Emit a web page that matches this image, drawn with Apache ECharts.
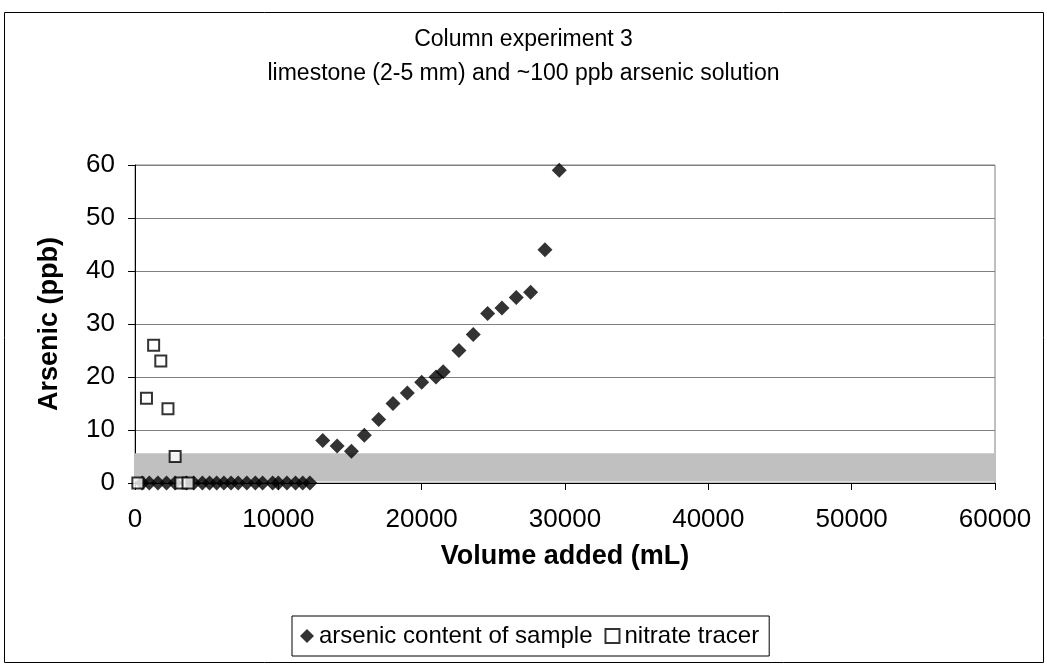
<!DOCTYPE html>
<html><head><meta charset="utf-8">
<script src="https://cdn.jsdelivr.net/npm/echarts@6/dist/echarts.min.js"></script>
<style>html,body{margin:0;padding:0;background:#fff}#c{width:1047px;height:667px}</style>
</head><body><div id="c"></div>
<script>
var titleLines = ['Column experiment 3', 'limestone (2-5 mm) and ~100 ppb arsenic solution'];
var seriesNames = ['arsenic content of sample', 'nitrate tracer'];
var arsenicVolume = [500,1000,1600,2200,2800,3600,4100,4700,5200,5700,6200,6700,7200,7800,8400,8900,9600,10000,10600,11200,11700,12200,
  13100,14100,15100,16000,17000,18000,19000,20000,21000,21500,22600,23600,24600,25600,26600,27600,28600,29600];
var arsenicValue = [0,0,0,0,0,0,0,0,0,0,0,0,0,0,0,0,0,0,0,0,0,0,
  8,7,6,9,12,15,17,19,20,21,25,28,32,33,35,36,44,59];
var nitrateVolume = [200,800,1300,1800,2300,2800,3200,3700];
var nitrateValue = [0,16,26,23,14,5,0,0];
var bandRange = [0.3, 5.6];
var xTicks = {min:0, max:60000, interval:10000};
var yTicks = {min:0, max:60, interval:10};

function pairs(xs, ys){ return xs.map(function(x,i){ return [x, ys[i]]; }); }

var chart = echarts.init(document.getElementById('c'));
var font = 'Liberation Sans, Arial, sans-serif';
chart.setOption({
  animation:false,
  backgroundColor:'#fff',
  textStyle:{fontFamily:font},
  graphic:[{type:'rect', shape:{x:4.5,y:12.5,width:1039,height:650}, style:{fill:null, stroke:'#000', lineWidth:1}, z:-1}],
  title:{text:titleLines.join('\n'), left:'center', top:18,
    textStyle:{fontFamily:font, fontSize:23, fontWeight:'normal', color:'#000', lineHeight:34}},
  legend:{data:[{name:seriesNames[0]},{name:seriesNames[1]}], left:292, top:616,
    borderColor:'#000', borderWidth:1, padding:[8,10,8,8], itemGap:12, itemWidth:14, itemHeight:14,
    textStyle:{fontFamily:font, fontSize:24, color:'#000'}},
  grid:{left:135, right:52, top:165, bottom:184, show:true, borderColor:'#808080', borderWidth:1, backgroundColor:'#fff'},
  xAxis:{type:'value', min:xTicks.min, max:xTicks.max, interval:xTicks.interval,
    name:'Volume added (mL)', nameLocation:'middle', nameGap:60,
    nameTextStyle:{fontFamily:font, fontSize:27, fontWeight:'bold', color:'#000'},
    axisLine:{show:true, onZero:false, lineStyle:{color:'#000'}},
    axisTick:{show:true, length:7, lineStyle:{color:'#000'}},
    axisLabel:{fontFamily:font, fontSize:26, color:'#000', margin:24, formatter:function(v){return String(v);}},
    splitLine:{show:false}},
  yAxis:{type:'value', min:yTicks.min, max:yTicks.max, interval:yTicks.interval,
    name:'Arsenic (ppb)', nameLocation:'middle', nameGap:72, nameRotate:90,
    nameTextStyle:{fontFamily:font, fontSize:27, fontWeight:'bold', color:'#000'},
    axisLine:{show:true, lineStyle:{color:'#000'}},
    axisTick:{show:true, length:7, lineStyle:{color:'#000'}},
    axisLabel:{fontFamily:font, fontSize:26, color:'#000', margin:20},
    splitLine:{show:true, lineStyle:{color:'#808080', width:1}}},
  series:[
    {name:seriesNames[0], type:'scatter', symbol:'diamond', symbolSize:15,
      itemStyle:{color:'#000'}, data:pairs(arsenicVolume, arsenicValue), z:2},
    {name:seriesNames[1], type:'scatter', symbol:'rect', symbolSize:11,
      itemStyle:{color:'#fff', borderColor:'#000', borderWidth:2}, data:pairs(nitrateVolume, nitrateValue), z:2},
    {name:'band', type:'scatter', data:[], z:5,
      markArea:{silent:true, itemStyle:{color:'#c0c0c0', opacity:1},
        data:[[{xAxis:xTicks.min, yAxis:bandRange[0]},{xAxis:xTicks.max, yAxis:bandRange[1]}]]}}
  ]
});
</script></body></html>
